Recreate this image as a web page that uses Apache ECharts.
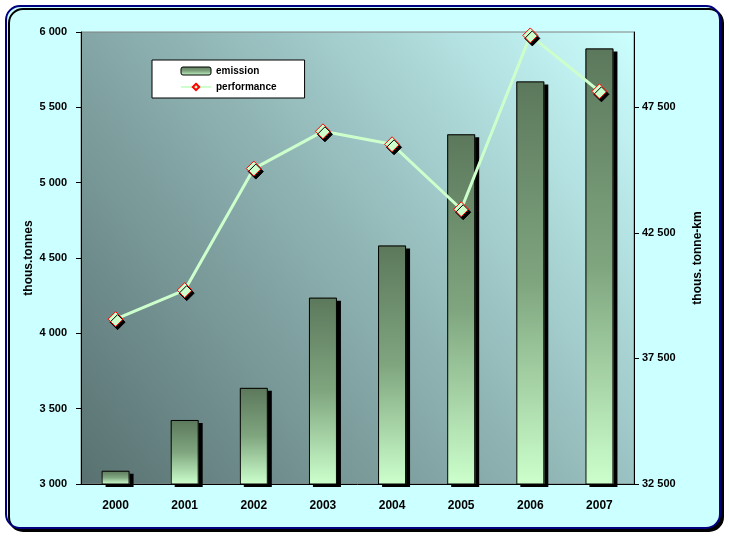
<!DOCTYPE html>
<html>
<head>
<meta charset="utf-8">
<script src="https://cdn.jsdelivr.net/npm/echarts@6/dist/echarts.min.js"></script>
<style>
html,body{margin:0;padding:0;background:#ffffff;}
#c{width:730px;height:539px;}
</style>
</head>
<body>
<div id="c"></div>
<script>
var years = ['2000','2001','2002','2003','2004','2005','2006','2007'];
var emission = [3088, 3425, 3638, 4237, 4583, 5321, 5672, 5891];
var performance = [39065, 40219, 45061, 46545, 46028, 43442, 50365, 48137];
var leftTicks = [3000, 3500, 4000, 4500, 5000, 5500, 6000];
var rightTicks = [32500, 37500, 42500, 47500];

var FONT = "'Liberation Sans Narrow','Liberation Sans',Arial,sans-serif";
function fmt(v){ var s = String(Math.round(v)); return s.replace(/\B(?=(\d{3})+(?!\d))/g, ' '); }

var barGradient = {type: 'linear', x: 0, y: 0, x2: 0, y2: 1,
  colorStops: [{offset: 0, color: '#5c785c'}, {offset: 0.5, color: '#7fa57f'}, {offset: 1, color: '#ccffcc'}]};

var chart = echarts.init(document.getElementById('c'));
chart.setOption({
  animation: false,
  backgroundColor: '#ffffff',
  graphic: [{
    type: 'rect', z: -10,
    shape: {x: 6, y: 6, width: 714, height: 522, r: 14},
    style: {fill: '#ccffff', stroke: '#000080', lineWidth: 2,
            shadowColor: '#000', shadowOffsetX: 3, shadowOffsetY: 3, shadowBlur: 0}
  }],
  grid: {
    left: 81, right: 96, top: 32, bottom: 55,
    show: true,
    borderColor: '#808080', borderWidth: 1,
    backgroundColor: {type: 'linear', x: 0, y: 1, x2: 1, y2: 0,
      colorStops: [{offset: 0, color: '#587070'}, {offset: 0.5, color: '#8fb3b3'}, {offset: 1, color: '#ccffff'}]}
  },
  legend: {
    left: 152, top: 60, orient: 'vertical',
    backgroundColor: '#ffffff', borderColor: '#000', borderWidth: 1,
    padding: [6, 28, 6, 28], itemGap: 6,
    itemWidth: 30, itemHeight: 8,
    textStyle: {fontFamily: FONT, fontWeight: 'bold', fontSize: 10, color: '#000'},
    data: [
      {name: 'emission', itemStyle: {borderColor: '#000', borderWidth: 1}},
      {name: 'performance'}
    ]
  },
  xAxis: {
    type: 'category', data: years,
    axisLine: {lineStyle: {color: '#000', width: 1}},
    axisTick: {length: 5, lineStyle: {color: '#000'}},
    axisLabel: {fontFamily: FONT, fontWeight: 'bold', fontSize: 12, color: '#000', margin: 16},
    splitLine: {show: false}
  },
  yAxis: [{
    type: 'value', min: 3000, max: 6000, interval: 500, position: 'left',
    name: 'thous.tonnes', nameLocation: 'middle', nameGap: 46, nameRotate: 90,
    nameMoveOverlap: false,
    nameTextStyle: {fontFamily: FONT, fontWeight: 'bold', fontSize: 12, color: '#000'},
    axisLine: {show: true, lineStyle: {color: '#000'}},
    axisTick: {show: true, length: 5, lineStyle: {color: '#000'}},
    axisLabel: {fontFamily: FONT, fontWeight: 'bold', fontSize: 11, color: '#000', margin: 14,
      formatter: function(v){ return fmt(v); }},
    splitLine: {show: false}
  }, {
    type: 'value', min: 32500, max: 50500, interval: 5000, position: 'right',
    name: 'thous. tonne-km', nameLocation: 'middle', nameGap: 58, nameRotate: 90,
    nameTextStyle: {fontFamily: FONT, fontWeight: 'bold', fontSize: 12, color: '#000'},
    axisLine: {show: true, lineStyle: {color: '#000'}},
    axisTick: {show: true, length: 5, lineStyle: {color: '#000'},
      customValues: rightTicks},
    axisLabel: {fontFamily: FONT, fontWeight: 'bold', fontSize: 11, color: '#000', margin: 8,
      customValues: rightTicks,
      formatter: function(v){ return fmt(v); }},
    splitLine: {show: false}
  }],
  series: [{
    name: 'emission', type: 'bar', yAxisIndex: 0, data: emission,
    barWidth: 28, z: 2,
    itemStyle: {
      color: barGradient,
      borderWidth: 0,
      shadowColor: '#000', shadowOffsetX: 4, shadowOffsetY: 3, shadowBlur: 0
    }
  }, {
    name: 'emission-outline', type: 'bar', yAxisIndex: 0, data: emission,
    barWidth: 28, barGap: '-100%', z: 3, silent: true,
    itemStyle: {color: 'rgba(0,0,0,0)', borderColor: '#000', borderWidth: 1}
  }, {
    name: 'performance', type: 'line', yAxisIndex: 1, data: performance,
    z: 5,
    symbol: 'path://M0,-1L1,0L0,1L-1,0Z', symbolSize: 15,
    lineStyle: {color: '#ccffcc', width: 3},
    itemStyle: {color: '#ccffcc', borderColor: '#ff0000', borderWidth: 1,
      shadowColor: '#000', shadowOffsetX: 2, shadowOffsetY: 3, shadowBlur: 0}
  }]
});
</script>
</body>
</html>
